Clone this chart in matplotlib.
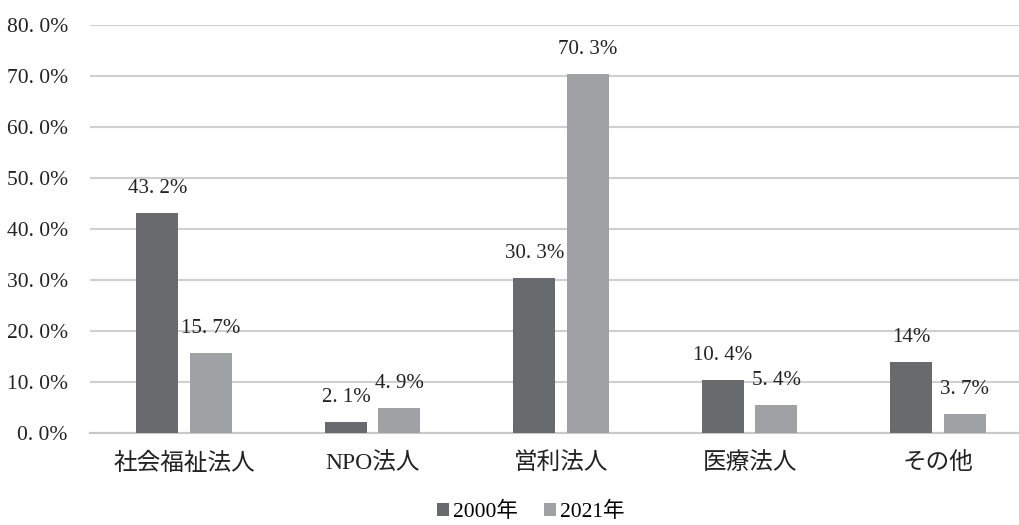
import numpy as np
import matplotlib
matplotlib.use("Agg")
import matplotlib.pyplot as plt

plt.rcParams['font.family'] = ['Liberation Serif', 'Noto Sans CJK JP']

categories = ["社会福祉法人", "NPO法人", "営利法人", "医療法人", "その他"]
vals_2000 = [43.2, 2.1, 30.3, 10.4, 14.0]
vals_2021 = [15.7, 4.9, 70.3, 5.4, 3.7]
labels_2000 = ["43. 2%", "2. 1%", "30. 3%", "10. 4%", "14%"]
labels_2021 = ["15. 7%", "4. 9%", "70. 3%", "5. 4%", "3. 7%"]
yticks = [0, 10, 20, 30, 40, 50, 60, 70, 80]
ytick_labels = [f"{v}. 0%" for v in yticks]

c_dark = "#696a6e"
c_light = "#a0a1a5"

fig = plt.figure(figsize=(10.19, 5.25), dpi=100)
ax = fig.add_axes([90/1019, 92/525, 929/1019, 408/525])

x = np.arange(len(categories))
w = 0.223
off = 0.142
b1 = ax.bar(x - off, vals_2000, w, color=c_dark, label="2000年", zorder=3)
b2 = ax.bar(x + off, vals_2021, w, color=c_light, label="2021年", zorder=3)

for rect, lab in zip(b1, labels_2000):
    ax.annotate(lab, (rect.get_x() + rect.get_width()/2, rect.get_height()),
                xytext=(0, 15), textcoords="offset pixels",
                ha="center", va="bottom", fontsize=15, color="#222222")
for rect, lab in zip(b2, labels_2021):
    ax.annotate(lab, (rect.get_x() + rect.get_width()/2, rect.get_height()),
                xytext=(0, 15), textcoords="offset pixels",
                ha="center", va="bottom", fontsize=15, color="#222222")

ax.set_xlim(-0.5, 4.43)
ax.set_ylim(0, 80)
ax.set_yticks(yticks)
ax.set_yticklabels(ytick_labels, fontsize=15.5, color="#222222")
ax.set_xticks(x)
ax.set_xticklabels(categories, fontsize=17, color="#222222")
ax.tick_params(axis="both", length=0)
ax.tick_params(axis="y", pad=16)
ax.tick_params(axis="x", pad=14)
ax.grid(axis="y", color="#d0d0d0", lw=1.5, zorder=0)
for s in ["top", "right", "left"]:
    ax.spines[s].set_visible(False)
ax.spines["bottom"].set_color("#c8c8c8")
ax.spines["bottom"].set_linewidth(1.5)

fig.legend(loc="center", bbox_to_anchor=(0.521, 0.025), ncol=2, frameon=False,
           fontsize=15.5, handlelength=0.55, handleheight=0.55, handletextpad=0.2,
           columnspacing=1.2)

fig.savefig("out.png", dpi=100)
